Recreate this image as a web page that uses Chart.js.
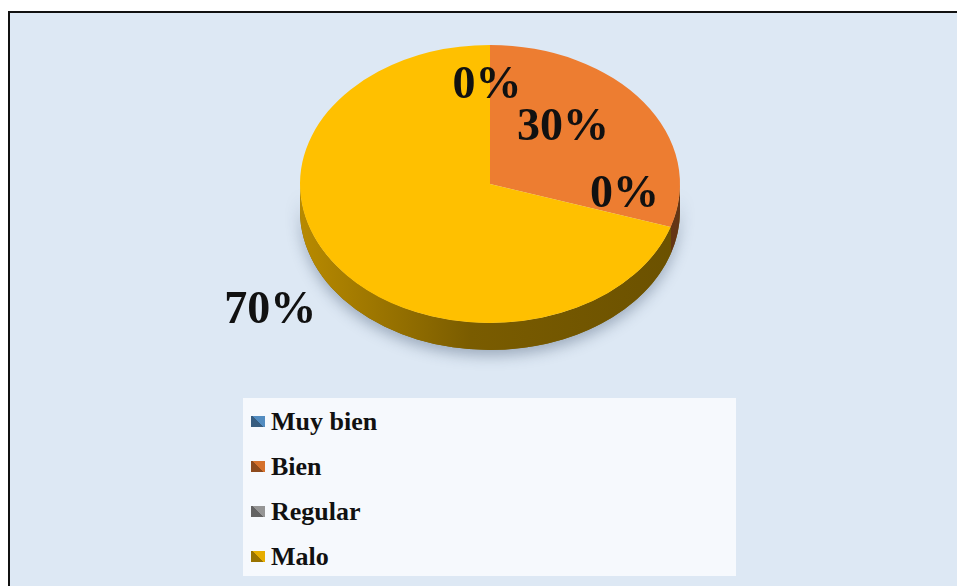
<!DOCTYPE html>
<html>
<head>
<meta charset="utf-8">
<script src="https://cdn.jsdelivr.net/npm/chart.js@4/dist/chart.umd.min.js"></script>
<style>
  html, body { margin: 0; padding: 0; background: #fff; }
  #frame {
    position: absolute; left: 8px; top: 11px; width: 960px; height: 590px;
    background: #dde8f4; border-top: 2px solid #111; border-left: 2px solid #111;
  }
  #myChart { position: absolute; left: 0; top: 0; }
  #legend {
    position: absolute; left: 243px; top: 398px; width: 493px; height: 178px;
    background: #f6f9fd; padding-top: 1px; box-sizing: border-box;
    font: bold 26px "Liberation Serif", "Times New Roman", serif; color: #111;
  }
  .row { height: 45px; line-height: 45px; display: flex; align-items: center; }
  .box { width: 14px; height: 11px; margin-left: 8px; margin-right: 6px; }
</style>
</head>
<body>
<div id="frame"></div>
<canvas id="myChart" width="957" height="586"></canvas>
<div id="legend"></div>
<script>
// categorias y porcentajes
const labels = ['Muy bien', 'Bien', 'Regular', 'Malo'];
const values = [0, 30, 0, 70];
const colors = ['#5B9BD5', '#ED7D31', '#A5A5A5', '#FFC000'];

// donde va cada etiqueta (factor de radio y ajuste fino)
const labelRadius = [0.65, 0.65, 0.65, 1.3];
const labelNudge = [[-3, -12], [-27, -7], [17, -21], [-20, 17]];

const PIE_CY = 184;   // centro vertical de la elipse
const TILT = 0.7316;  // achatamiento
const DEPTH = 27;     // grosor del "3D"

function shade(hex, f) {
  const n = parseInt(hex.slice(1), 16);
  const r = Math.round(((n >> 16) & 255) * f);
  const g = Math.round(((n >> 8) & 255) * f);
  const b = Math.round((n & 255) * f);
  return 'rgb(' + r + ',' + g + ',' + b + ')';
}

const pie3d = {
  id: 'pie3d',
  beforeDatasetsDraw(chart) {
    const ctx = chart.ctx;
    const arcs = chart.getDatasetMeta(0).data;
    const cx = arcs[0].x, R = arcs[0].outerRadius, ry = R * TILT;

    // sombra debajo del lado
    ctx.save();
    ctx.shadowColor = 'rgba(40,60,90,0.35)';
    ctx.shadowBlur = 14;
    ctx.shadowOffsetY = 6;
    ctx.beginPath();
    ctx.ellipse(cx, PIE_CY, R, ry, 0, 0, Math.PI);
    ctx.ellipse(cx, PIE_CY + DEPTH, R, ry, 0, Math.PI, 0, true);
    ctx.closePath();
    ctx.fillStyle = '#7a5d00';
    ctx.fill();
    ctx.restore();

    // lado de cada porcion visible
    arcs.forEach((a, i) => {
      const s = a.startAngle, e = a.endAngle;
      [-2 * Math.PI, 0, 2 * Math.PI].forEach(off => {
        const lo = Math.max(s, off), hi = Math.min(e, Math.PI + off);
        if (hi <= lo) return;
        const g = ctx.createLinearGradient(cx - R, 0, cx + R, 0);
        g.addColorStop(0, shade(colors[i], 0.72));
        g.addColorStop(0.45, shade(colors[i], 0.48));
        g.addColorStop(1, shade(colors[i], 0.42));
        ctx.beginPath();
        ctx.ellipse(cx, PIE_CY, R, ry, 0, lo, hi);
        ctx.ellipse(cx, PIE_CY + DEPTH, R, ry, 0, hi, lo, true);
        ctx.closePath();
        ctx.fillStyle = g;
        ctx.fill();
      });
    });

    // cara superior achatada
    ctx.save();
    ctx.translate(cx, PIE_CY);
    ctx.scale(1, TILT);
    ctx.translate(-arcs[0].x, -arcs[0].y);
  },
  afterDatasetsDraw(chart) {
    const ctx = chart.ctx;
    ctx.restore();
    const arcs = chart.getDatasetMeta(0).data;
    ctx.save();
    ctx.font = 'bold 46px "Liberation Serif", "Times New Roman", serif';
    ctx.fillStyle = '#111';
    ctx.textAlign = 'center';
    ctx.textBaseline = 'alphabetic';
    arcs.forEach((a, i) => {
      const mid = (a.startAngle + a.endAngle) / 2;
      const r = a.outerRadius * labelRadius[i];
      const x = a.x + r * Math.cos(mid) + labelNudge[i][0];
      const y = PIE_CY + r * TILT * Math.sin(mid) + labelNudge[i][1];
      ctx.fillText(values[i] + '%', x, y + 16);
    });
    ctx.restore();
  }
};

new Chart(document.getElementById('myChart'), {
  type: 'pie',
  data: {
    labels: labels,
    datasets: [{
      data: values,
      backgroundColor: colors,
      borderWidth: 0,
      hoverOffset: 0
    }]
  },
  options: {
    responsive: false,
    animation: false,
    events: [],
    layout: { padding: { left: 300, right: 277, top: 0, bottom: 206 } },
    plugins: { legend: { display: false }, tooltip: { enabled: false } }
  },
  plugins: [pie3d]
});

// leyenda
const leg = document.getElementById('legend');
labels.forEach((l, i) => {
  const row = document.createElement('div');
  row.className = 'row';
  const b = document.createElement('span');
  b.className = 'box';
  b.style.background = 'linear-gradient(45deg,' + shade(colors[i], 0.6) + ' 50%,' + shade(colors[i], 0.9) + ' 50%)';
  row.appendChild(b);
  row.appendChild(document.createTextNode(l));
  leg.appendChild(row);
});
</script>
</body>
</html>
